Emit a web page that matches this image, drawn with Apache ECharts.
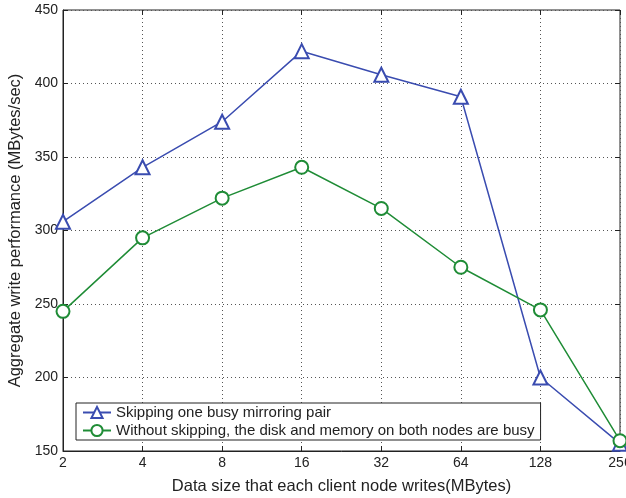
<!DOCTYPE html>
<html><head><meta charset="utf-8">
<script src="https://cdn.jsdelivr.net/npm/echarts@6/dist/echarts.min.js"></script>
<style>html,body{margin:0;padding:0;background:#fff}#c{width:626px;height:498px}</style>
</head><body><div id="c"></div>
<script>
const categories = ['2','4','8','16','32','64','128','256'];
const skipping = [306, 343, 374, 422, 406, 391, 200, 155];
const noSkipping = [245, 295, 322, 343, 315, 275, 246, 157];
const yTicks = {min:150, max:450, interval:50};
const seriesNames = ['Skipping one busy mirroring pair','Without skipping, the disk and memory on both nodes are busy'];
const blue = '#3a4cb0', green = '#1f8c36';
const font = 'Liberation Sans, Arial, Helvetica, sans-serif';
const chart = echarts.init(document.getElementById('c'), null, {renderer:'canvas'});
const gridLine = {show:true, lineStyle:{color:'#555', type:[1,3], width:1}};
chart.setOption({
  animation:false,
  backgroundColor:'#fff',
  grid:{left:63, right:6, top:10, bottom:47, show:true, borderColor:'#222', borderWidth:1, outerBoundsMode:'none', containLabel:false},
  xAxis:[{
    type:'category', data:categories, boundaryGap:false,
    axisLine:{show:true, lineStyle:{color:'#222', width:1}},
    axisTick:{show:true, inside:true, length:5, alignWithLabel:true, lineStyle:{color:'#222'}},
    axisLabel:{color:'#222', fontFamily:font, fontSize:14, margin:5},
    splitLine:gridLine,
    name:'Data size that each client node writes(MBytes)', nameLocation:'middle', nameGap:27,
    nameTextStyle:{color:'#222', fontFamily:font, fontSize:16.5}
  },{
    type:'category', data:categories, boundaryGap:false, position:'top',
    axisLine:{show:false}, axisLabel:{show:false},
    axisTick:{show:true, inside:true, length:5, lineStyle:{color:'#222'}}, splitLine:{show:false}
  }],
  yAxis:[{
    type:'value', min:yTicks.min, max:yTicks.max, interval:yTicks.interval,
    axisLine:{show:true, lineStyle:{color:'#222', width:1}},
    axisTick:{show:true, inside:true, length:5, lineStyle:{color:'#222'}},
    axisLabel:{color:'#222', fontFamily:font, fontSize:14, margin:5},
    splitLine:gridLine,
    name:'Aggregate write performance (MBytes/sec)', nameLocation:'middle', nameGap:35,
    nameTextStyle:{color:'#222', fontFamily:font, fontSize:16.5}
  },{
    type:'value', min:yTicks.min, max:yTicks.max, interval:yTicks.interval, position:'right',
    axisLine:{show:false}, axisLabel:{show:false},
    axisTick:{show:true, inside:true, length:5, lineStyle:{color:'#222'}}, splitLine:{show:false}
  }],
  legend:{
    orient:'vertical', left:76, top:403, width:469,
    backgroundColor:'#fff', borderColor:'#222', borderWidth:1, borderRadius:0,
    padding:[2,6,2,6], itemGap:3, itemWidth:28, itemHeight:14,
    textStyle:{color:'#222', fontFamily:font, fontSize:15},
    data:seriesNames
  },
  series:[{
    name:seriesNames[0], type:'line', data:skipping,
    symbol:'emptyTriangle', symbolSize:14,
    lineStyle:{color:blue, width:1.5}, itemStyle:{color:blue, borderColor:blue, borderWidth:1.5}
  },{
    name:seriesNames[1], type:'line', data:noSkipping,
    symbol:'emptyCircle', symbolSize:13,
    lineStyle:{color:green, width:1.5}, itemStyle:{color:green, borderColor:green, borderWidth:1.5}
  }]
});
</script></body></html>
